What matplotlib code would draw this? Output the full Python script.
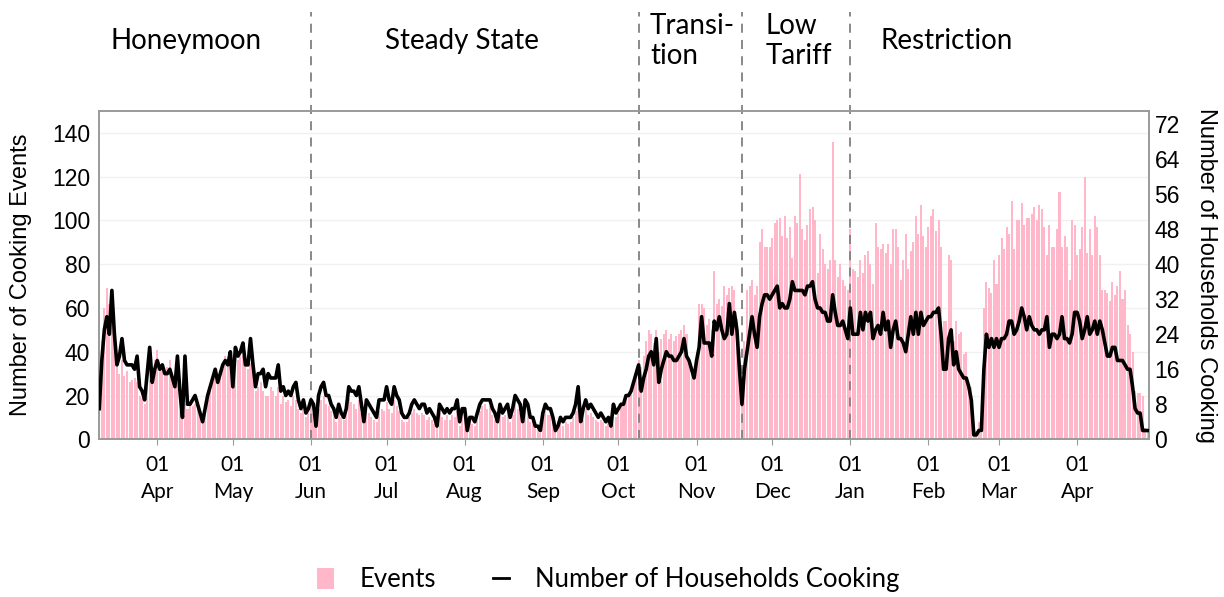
import matplotlib
matplotlib.use("Agg")
import matplotlib.pyplot as plt
import matplotlib.dates as mdates
from matplotlib.lines import Line2D
from matplotlib.patches import Patch
import pandas as pd

# daily data, first day below
START_DATE = "2021-03-09"

# number of cooking events per day (left axis)
EVENTS = [
    33, 45, 60, 69, 62, 60, 48, 34, 30, 36,
    29, 31, 26, 27, 28, 26, 20, 19, 16, 24,
    42, 30, 36, 41, 32, 34, 30, 33, 36, 30,
    26, 38, 22, 10, 16, 14, 15, 15, 16, 14,
    10, 8, 12, 18, 22, 26, 28, 26, 29, 32,
    38, 36, 40, 28, 38, 36, 38, 38, 34, 32,
    35, 30, 22, 24, 26, 22, 20, 20, 24, 22,
    20, 24, 16, 20, 17, 18, 15, 20, 18, 14,
    12, 15, 10, 12, 15, 12, 6, 14, 18, 20,
    16, 15, 13, 11, 8, 12, 10, 9, 12, 19,
    17, 16, 14, 18, 12, 7, 14, 12, 10, 9,
    8, 13, 14, 13, 17, 14, 12, 18, 15, 13,
    9, 8, 8, 10, 12, 14, 12, 11, 12, 11,
    9, 10, 9, 7, 5, 12, 10, 9, 11, 9,
    11, 10, 13, 6, 10, 9, 4, 8, 7, 6,
    10, 13, 15, 16, 14, 15, 11, 9, 7, 12,
    10, 11, 13, 8, 11, 18, 14, 12, 7, 16,
    12, 8, 8, 5, 5, 3, 10, 13, 11, 11,
    8, 4, 5, 8, 6, 8, 7, 8, 10, 13,
    17, 7, 11, 14, 11, 12, 10, 9, 8, 9,
    8, 6, 8, 5, 12, 10, 12, 15, 16, 19,
    20, 22, 26, 30, 36, 33, 38, 45, 50, 48,
    44, 50, 40, 46, 48, 50, 46, 48, 45, 47,
    48, 50, 52, 48, 36, 32, 30, 40, 62, 62,
    60, 52, 55, 50, 77, 62, 64, 61, 70, 66,
    69, 70, 68, 55, 40, 15, 45, 68, 70, 73,
    66, 70, 90, 96, 88, 88, 88, 92, 99, 100,
    101, 93, 102, 92, 97, 83, 102, 99, 121, 96,
    91, 98, 105, 106, 100, 76, 94, 87, 80, 78,
    82, 136, 82, 74, 80, 73, 70, 68, 96, 78,
    77, 74, 82, 76, 84, 86, 80, 71, 99, 88,
    87, 89, 85, 89, 80, 96, 96, 88, 73, 82,
    94, 78, 86, 90, 102, 94, 107, 93, 88, 97,
    102, 105, 95, 100, 88, 54, 54, 84, 82, 45,
    54, 48, 49, 39, 40, 24, 24, 3, 4, 8,
    3, 60, 72, 69, 67, 82, 71, 84, 92, 87,
    97, 94, 109, 87, 100, 100, 108, 98, 101, 101,
    103, 106, 100, 107, 105, 97, 84, 98, 88, 88,
    96, 113, 88, 93, 88, 73, 100, 98, 84, 87,
    97, 120, 85, 96, 84, 102, 97, 84, 68, 68,
    67, 63, 72, 66, 70, 77, 64, 68, 52, 48,
    40, 22, 21, 21, 20, 5, 4,
]

# number of households cooking per day (right axis)
HOUSEHOLDS = [
    7, 18, 25, 28, 24, 34, 24, 17, 19, 23,
    18, 17, 17, 17, 16, 19, 12, 11, 9, 15,
    21, 13, 16, 18, 16, 17, 15, 15, 16, 14,
    12, 19, 11, 5, 19, 8, 8, 9, 10, 8,
    6, 4, 7, 10, 12, 14, 16, 13, 15, 17,
    18, 17, 20, 12, 21, 19, 20, 22, 17, 17,
    23, 17, 12, 15, 15, 16, 12, 15, 14, 14,
    14, 17, 11, 12, 10, 11, 10, 12, 13, 9,
    7, 9, 6, 7, 9, 8, 3, 10, 12, 13,
    10, 10, 8, 7, 5, 8, 6, 5, 7, 12,
    11, 11, 10, 12, 8, 4, 9, 8, 7, 6,
    5, 9, 9, 9, 12, 9, 8, 12, 10, 9,
    6, 5, 5, 6, 8, 9, 8, 7, 8, 8,
    6, 7, 6, 5, 3, 8, 7, 6, 7, 6,
    7, 7, 9, 4, 7, 7, 2, 5, 5, 4,
    6, 8, 9, 9, 9, 9, 7, 6, 4, 8,
    6, 7, 8, 5, 7, 10, 9, 8, 4, 9,
    8, 5, 5, 3, 3, 2, 6, 8, 7, 7,
    5, 2, 3, 5, 4, 5, 5, 5, 6, 8,
    12, 4, 7, 9, 7, 8, 7, 6, 5, 6,
    5, 4, 5, 3, 8, 6, 7, 8, 8, 10,
    10, 11, 13, 15, 17, 11, 14, 16, 19, 20,
    17, 23, 13, 16, 18, 20, 19, 19, 18, 18,
    19, 20, 23, 19, 18, 16, 14, 18, 21, 28,
    22, 22, 22, 19, 27, 25, 28, 25, 23, 24,
    31, 24, 29, 25, 16, 8, 16, 20, 24, 28,
    24, 21, 28, 31, 33, 33, 32, 33, 34, 35,
    30, 31, 30, 30, 32, 36, 34, 34, 34, 34,
    33, 35, 35, 36, 32, 30, 30, 29, 29, 27,
    27, 33, 29, 26, 26, 27, 25, 23, 30, 24,
    24, 24, 29, 25, 29, 27, 29, 23, 25, 26,
    24, 29, 25, 27, 21, 25, 27, 23, 23, 22,
    20, 24, 28, 24, 29, 24, 29, 26, 27, 28,
    28, 29, 29, 30, 24, 16, 16, 23, 25, 17,
    20, 16, 15, 14, 14, 12, 9, 1, 1, 2,
    2, 16, 24, 21, 23, 21, 23, 21, 23, 23,
    24, 27, 27, 24, 25, 27, 30, 28, 25, 28,
    26, 25, 25, 24, 25, 25, 28, 21, 24, 24,
    23, 24, 28, 23, 23, 22, 24, 29, 29, 27,
    23, 25, 28, 24, 25, 27, 24, 27, 25, 22,
    19, 19, 21, 21, 18, 18, 18, 17, 16, 16,
    12, 7, 6, 6, 2, 2, 2,
]

# phase boundaries and names
PHASE_BOUNDS = ["2021-06-01", "2021-10-09", "2021-11-19", "2022-01-01"]
PHASE_LABELS = ["Honeymoon", "Steady State", "Transi-\ntion", "Low\nTariff", "Restriction"]

PINK = "#ffb7c9"
SPINE = "#9a9a9a"
TEXT_FONT = "Lato"
NUM_FONT = "Liberation Sans"


def main():
    dates = pd.date_range(START_DATE, periods=len(EVENTS), freq="D")

    fig = plt.figure(figsize=(12.24, 5.97), dpi=100)
    ax = fig.add_axes([0.0806, 0.2642, 0.8581, 0.5499])

    ax.bar(dates, EVENTS, width=0.8, color=PINK, zorder=2)
    ax.set_ylim(0, 150)
    ax.set_yticks(range(0, 141, 20))
    ax.set_xlim(dates[0] - pd.Timedelta(hours=6), dates[-1] + pd.Timedelta(hours=12))
    ax.grid(axis="y", color="#f1f1f1", lw=1)
    ax.set_axisbelow(True)

    # phase separators, running up above the plot area
    for b in PHASE_BOUNDS:
        ax.axvline(pd.Timestamp(b), ymin=0, ymax=1.30, color="#808080",
                   lw=1.3, ls=(0, (5, 4)), clip_on=False, zorder=3)

    ax.xaxis.set_major_locator(mdates.MonthLocator())
    ax.xaxis.set_major_formatter(mdates.DateFormatter("%d\n%b"))
    ax.tick_params(axis="x", length=4, color=SPINE, pad=7, labelsize=15)
    for lbl in ax.get_xticklabels():
        lbl.set_fontfamily(TEXT_FONT)
        lbl.set_linespacing(1.45)

    ax.tick_params(axis="y", length=0, pad=6, labelsize=16.5)
    for lbl in ax.get_yticklabels():
        lbl.set_fontfamily(NUM_FONT)
    ax.set_ylabel("Number of Cooking Events", fontsize=17, fontfamily=NUM_FONT)
    ax.yaxis.set_label_coords(-0.0635, 0.5)

    ax2 = ax.twinx()
    ax2.plot(dates, HOUSEHOLDS, color="black", lw=2.6, zorder=4)
    ax2.set_ylim(0, 75)
    ax2.set_yticks(range(0, 73, 8))
    ax2.tick_params(axis="y", length=0, pad=4, labelsize=16.5)
    for lbl in ax2.get_yticklabels():
        lbl.set_fontfamily(NUM_FONT)
    ax2.set_ylabel("Number of Households Cooking", fontsize=17,
                   fontfamily=NUM_FONT, rotation=270, va="bottom")
    ax2.yaxis.set_label_coords(1.044, 0.5)

    for a in (ax, ax2):
        for s in a.spines.values():
            s.set_color(SPINE)
            s.set_linewidth(1.2)

    # phase names above the plot
    fig.text(186 / 1224, 1 - 41 / 597, PHASE_LABELS[0], fontsize=20,
             fontfamily=TEXT_FONT, ha="center", va="center")
    fig.text(462 / 1224, 1 - 41 / 597, PHASE_LABELS[1], fontsize=20,
             fontfamily=TEXT_FONT, ha="center", va="center")
    fig.text(650 / 1224, 1 - 41 / 597, PHASE_LABELS[2], fontsize=20,
             fontfamily=TEXT_FONT, ha="left", va="center", linespacing=1.15)
    fig.text(766 / 1224, 1 - 41 / 597, PHASE_LABELS[3], fontsize=20,
             fontfamily=TEXT_FONT, ha="left", va="center", linespacing=1.15)
    fig.text(947 / 1224, 1 - 41 / 597, PHASE_LABELS[4], fontsize=20,
             fontfamily=TEXT_FONT, ha="center", va="center")

    handles = [
        Patch(facecolor=PINK, edgecolor="none"),
        Line2D([], [], color="black", lw=2),
    ]
    fig.legend(handles, ["Events", "Number of Households Cooking"],
               loc="center", bbox_to_anchor=(0.497, 0.029), ncol=2,
               frameon=False, prop={"family": TEXT_FONT, "size": 18.5},
               handlelength=0.65, handleheight=0.85, handletextpad=1.0,
               columnspacing=2.2)

    fig.savefig("out.png", dpi=100)


if __name__ == "__main__":
    main()
